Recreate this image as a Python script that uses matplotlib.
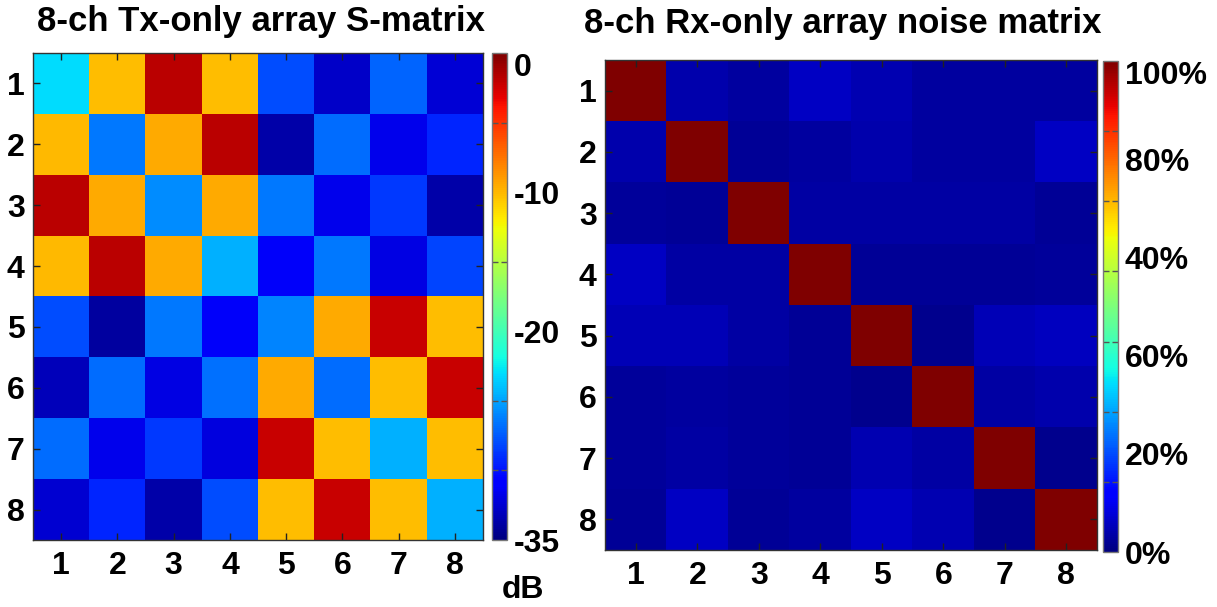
import numpy as np
import matplotlib.pyplot as plt
from matplotlib.ticker import FixedLocator

plt.rcParams['font.family'] = ['Liberation Sans', 'DejaVu Sans']
plt.rcParams['font.weight'] = 'bold'

channels = [1, 2, 3, 4, 5, 6, 7, 8]

# Tx-only array S-matrix, dB
s_matrix_db = [
    [-23.0, -10.2, -1.9, -10.2, -27.9, -32.8, -27.2, -32.3],
    [-10.0, -26.5, -9.5, -1.9, -33.7, -26.8, -31.6, -29.3],
    [-1.9, -9.5, -25.8, -9.5, -26.5, -31.6, -28.6, -33.7],
    [-10.0, -1.9, -9.5, -24.6, -31.3, -26.5, -31.9, -28.2],
    [-27.9, -34.0, -26.5, -31.3, -26.0, -9.5, -2.3, -10.2],
    [-33.1, -26.8, -31.9, -26.7, -9.5, -26.8, -10.2, -2.3],
    [-26.8, -31.7, -28.6, -32.0, -2.3, -10.2, -24.6, -10.2],
    [-32.5, -29.3, -33.7, -27.9, -10.2, -2.3, -10.2, -24.6],
]

# Rx-only array noise matrix, %
noise_matrix_pct = [
    [100, 4.0, 3.0, 6.0, 4.5, 3.0, 3.0, 3.0],
    [4.0, 100, 2.0, 3.0, 4.0, 3.0, 3.0, 6.0],
    [2.5, 2.0, 100, 3.5, 3.5, 3.5, 3.5, 2.0],
    [6.0, 3.5, 3.5, 100, 2.0, 2.0, 2.0, 2.5],
    [5.0, 5.0, 3.5, 2.0, 100, 1.5, 5.0, 5.5],
    [2.5, 3.0, 2.5, 2.0, 1.5, 100, 3.5, 4.0],
    [2.5, 3.5, 2.5, 2.0, 4.5, 3.5, 100, 1.5],
    [2.0, 6.0, 2.0, 3.0, 6.0, 4.5, 1.5, 100],
]

db_ticks = [0, -10, -20, -35]
db_tick_labels = ['0', '-10', '-20', '-35']
db_minor = [0, -5, -10, -15, -20, -25, -30, -35]

pct_ticks = [100, 80, 60, 40, 20, 0]
pct_tick_labels = ['100%', '80%', '40%', '60%', '20%', '0%']
pct_minor = list(np.linspace(0, 100, 8))

W, H = 1217, 607
fig = plt.figure(figsize=(W / 100, H / 100), dpi=100)


def box(x0, y0, x1, y1):
    return [x0 / W, 1 - y1 / H, (x1 - x0) / W, (y1 - y0) / H]


def draw_matrix(ax, cax, data, vmin, vmax, ticks, labels, minor):
    n = len(channels)
    im = ax.imshow(np.array(data), cmap='jet', vmin=vmin, vmax=vmax,
                   extent=(0.5, n + 0.5, n + 0.5, 0.5), aspect='auto',
                   interpolation='nearest')
    ax.set_xticks(channels)
    ax.set_yticks(channels)
    ax.tick_params(direction='in', length=5, width=1, color='#222222',
                   top=True, right=True, labelsize=23, pad=8)
    ax.tick_params(axis='y', pad=6)
    for sp in ax.spines.values():
        sp.set_color('#333333')
        sp.set_linewidth(1)
    cb = fig.colorbar(im, cax=cax)
    cb.outline.set_edgecolor('#777777')
    cb.outline.set_linewidth(1)
    cax.set_yticks(ticks)
    cax.set_yticklabels(labels)
    cax.yaxis.set_minor_locator(FixedLocator(minor))
    cax.tick_params(which='major', length=0, labelsize=23, pad=5)
    cax.tick_params(which='minor', direction='in', length=4, width=1,
                    color='#555555', left=True, right=True)
    # top label hangs below the top edge, as in the original
    for lab, t in zip(cax.get_yticklabels(), ticks):
        if t == vmax:
            lab.set_va('top')
    return cb


ax1 = fig.add_axes(box(33, 53, 483, 540))
cax1 = fig.add_axes(box(492, 53, 507, 540))
draw_matrix(ax1, cax1, s_matrix_db, -35, 0, db_ticks, db_tick_labels, db_minor)

ax2 = fig.add_axes(box(605, 60, 1097, 550))
cax2 = fig.add_axes(box(1103, 61, 1118, 552))
draw_matrix(ax2, cax2, noise_matrix_pct, 0, 100, pct_ticks, pct_tick_labels, pct_minor)

fig.text(261 / W, 1 - 21 / H, '8-ch Tx-only array S-matrix', ha='center', va='center',
         fontsize=25, fontweight='bold')
fig.text(843 / W, 1 - 23 / H, '8-ch Rx-only array noise matrix', ha='center', va='center',
         fontsize=25, fontweight='bold')
fig.text(523 / W, 1 - 590 / H, 'dB', ha='center', va='center',
         fontsize=23, fontweight='bold')

fig.savefig('out.png', dpi=100)
